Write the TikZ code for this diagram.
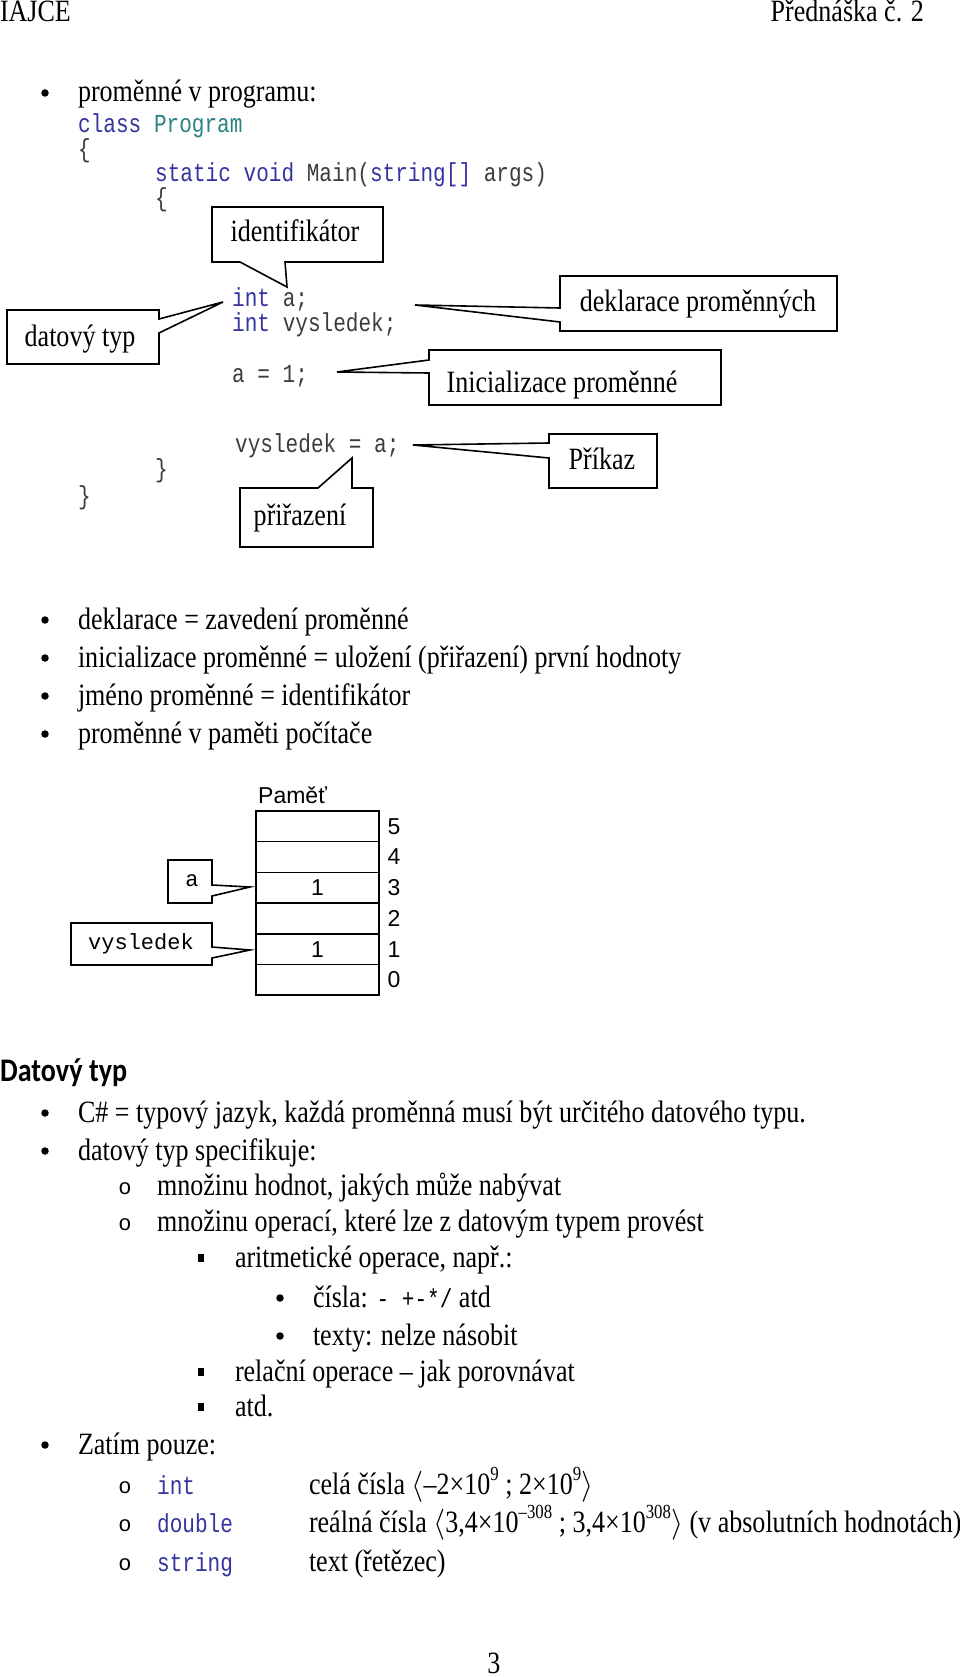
\RequirePackage{fix-cm}
\documentclass[tikz,border=0pt]{standalone}
\usepackage{fontspec}
\setmainfont{Liberation Serif}[FakeStretch=0.84]
\setsansfont{Liberation Sans}
\setmonofont{Liberation Mono}[FakeStretch=0.81]
\newfontfamily\headfont{Carlito}[FakeStretch=0.85]
\newfontfamily\memmono{Liberation Mono}
\definecolor{kwc}{RGB}{52,52,160}
\definecolor{tyc}{RGB}{43,130,130}
\definecolor{cgc}{RGB}{60,60,60}
\newcommand\bodyfont{\rmfamily\fontsize{31}{37}\selectfont}
\newcommand\codefont{\ttfamily\fontsize{26}{30}\selectfont}
\newcommand\memfont{\sffamily\fontsize{23}{27}\selectfont}
\newcommand\memcode{\memmono\fontsize{22}{26}\selectfont}
\newcommand\kw[1]{\textcolor{kwc}{#1}}
\newcommand\sups[1]{\raisebox{0.42em}{\fontsize{20}{20}\selectfont #1}}
\begin{document}
\begin{tikzpicture}[x=1pt,y=-1pt,
 txt/.style={font=\bodyfont, anchor=base west, inner sep=0pt, outer sep=0pt},
 code/.style={font=\codefont, anchor=base west, inner sep=0pt, text=cgc},
 calltxt/.style={font=\bodyfont, anchor=base, inner sep=0pt},
 callout/.style={draw=black, line width=1.6pt, fill=white, line join=miter},
 dot/.style={circle, fill=black, inner sep=0pt, minimum size=7.5pt},
 sq/.style={rectangle, fill=black, inner sep=0pt, minimum width=6.5pt, minimum height=7.5pt},
 ring/.style={font=\memcode, anchor=base, inner sep=0pt},
 cell/.style={draw=black, line width=1.5pt, minimum width=123pt, minimum height=30.7pt, inner sep=0pt},
 memtxt/.style={font=\memfont, inner sep=0pt},
]
\useasboundingbox (0,0) rectangle (960,1677);

% header
\node[txt] (hl) at (0,22) {IAJCE};
\node[txt, anchor=base east] (hr) at (924,22) {Přednáška č. 2};

% first bullet
\node[dot] (b1) at (45,93) {};
\node[txt] (t1) at (78,102) {proměnné v programu:};

% code
\node[code] (c1) at (78,133) {\kw{class} \textcolor{tyc}{Program}};
\node[code] (c2) at (78,158) {\{};
\node[code] (c3) at (155,182) {\kw{static} \kw{void} Main(\kw{string[]} args)};
\node[code] (c4) at (155,207) {\{};
\node[code] (c5) at (232,306) {\kw{int} a;};
\node[code] (c6) at (232,331) {\kw{int} vysledek;};
\node[code] (c7) at (232,382) {a = 1;};
\node[code] (c8) at (235,452) {vysledek = a;};
\node[code] (c9) at (155,477) {\}};
\node[code] (c10) at (78,504) {\}};

% callouts
\draw[callout] (212,207) -- (383,207) -- (383,262) -- (285,262) -- (287,287) -- (240,262) -- (212,262) -- cycle;
\node[calltxt] (k1) at (295,242) {identifikátor};

\draw[callout] (7,310) -- (159,310) -- (159,319) -- (223,302) -- (159,333) -- (159,364) -- (7,364) -- cycle;
\node[calltxt] (k2) at (80,346) {datový typ};

\draw[callout] (560,276) -- (837,276) -- (837,331) -- (560,331) -- (560,322) -- (415,305) -- (560,308) -- cycle;
\node[calltxt] (k3) at (698,312) {deklarace proměnných};

\draw[callout] (429,350) -- (721,350) -- (721,405) -- (429,405) -- (429,373) -- (337,372) -- (429,360) -- cycle;
\node[calltxt] (k4) at (562,392) {Inicializace proměnné};

\draw[callout] (549,434) -- (657,434) -- (657,488) -- (549,488) -- (549,458) -- (413,445) -- (549,443) -- cycle;
\node[calltxt] (k5) at (602,469) {Příkaz};

\draw[callout] (240,488) -- (318,488) -- (352,458) -- (352,488) -- (373,488) -- (373,547) -- (240,547) -- cycle;
\node[calltxt] (k6) at (300,525) {přiřazení};

% bullets 2
\node[dot] (b2) at (45,620) {};
\node[txt] (t2) at (78,629) {deklarace = zavedení proměnné};
\node[dot] (b3) at (45,658) {};
\node[txt] (t3) at (78,667) {inicializace proměnné = uložení (přiřazení) první hodnoty};
\node[dot] (b4) at (45,696) {};
\node[txt] (t4) at (78,705) {jméno proměnné = identifikátor};
\node[dot] (b5) at (45,734) {};
\node[txt] (t5) at (78,743) {proměnné v paměti počítače};

% memory
\node[memtxt, anchor=base west] (pam) at (258,803) {Paměť};
\node[cell] (m5) at (317.5,826.3) {};
\node[cell] (m4) at (317.5,857) {};
\node[cell] (m3) at (317.5,887.7) {};
\node[cell] (m2) at (317.5,918.4) {};
\node[cell] (m1) at (317.5,949.1) {};
\node[cell] (m0) at (317.5,979.8) {};
\node[memtxt] at (m3.center) {1};
\node[memtxt] at (m1.center) {1};
\node[memtxt] (n5) at (394,826.3) {5};
\node[memtxt] (n4) at (394,857) {4};
\node[memtxt] (n3) at (394,887.7) {3};
\node[memtxt] (n2) at (394,918.4) {2};
\node[memtxt] (n1) at (394,949.1) {1};
\node[memtxt] (n0) at (394,979.8) {0};

\draw[callout] (168,860) -- (212,860) -- (212,885) -- (250,887) -- (212,896) -- (212,903) -- (168,903) -- cycle;
\node[font=\memcode, inner sep=0pt] (va) at (192,881) {a};
\draw[callout] (71,923) -- (212,923) -- (212,947) -- (250,950) -- (212,958) -- (212,965) -- (71,965) -- cycle;
\node[font=\memcode, inner sep=0pt] (vv) at (141,944) {vysledek};

% Datový typ
\node[font=\headfont\bfseries\fontsize{33}{39}\selectfont, anchor=base west, inner sep=0pt] (h2) at (0,1081) {Datový typ};

\node[dot] (d1) at (45,1113) {};
\node[txt] (u1) at (78,1122) {C\# = typový jazyk, každá proměnná musí být určitého datového typu.};
\node[dot] (d2) at (45,1151) {};
\node[txt] (u2) at (78,1160) {datový typ specifikuje:};
\node[ring] (o1) at (125,1194) {o};
\node[txt] (u3) at (157,1195) {množinu hodnot, jakých může nabývat};
\node[ring] (o2) at (125,1230) {o};
\node[txt] (u4) at (157,1231) {množinu operací, které lze z datovým typem provést};
\node[sq] (s1) at (201,1258) {};
\node[txt] (u5) at (235,1267) {aritmetické operace, např.:};
\node[dot] (e1) at (280,1298) {};
\node[txt] (u6) at (313,1307) {čísla: {\codefont\color{black}- +-*/} atd};
\node[dot] (e2) at (280,1336) {};
\node[txt] (u7) at (313,1345) {texty: nelze násobit};
\node[sq] (s2) at (201,1372) {};
\node[txt] (u8) at (235,1381) {relační operace – jak porovnávat};
\node[sq] (s3) at (201,1407) {};
\node[txt] (u9) at (235,1416) {atd.};
\node[dot] (d3) at (45,1445) {};
\node[txt] (u10) at (78,1454) {Zatím pouze:};

\node[ring] (o3) at (125,1493) {o};
\node[code, text=kwc] (ti) at (157,1494) {int};
\node[txt] (u11) at (309,1494) {celá čísla $\langle$–2×10\sups{9} ; 2×10\sups{9}$\rangle$};
\node[ring] (o4) at (125,1531) {o};
\node[code, text=kwc] (td) at (157,1532) {double};
\node[txt] (u12) at (309,1532) {reálná čísla $\langle$3,4×10\sups{–308} ; 3,4×10\sups{308}$\rangle$ (v absolutních hodnotách)};
\node[ring] (o5) at (125,1570) {o};
\node[code, text=kwc] (ts) at (157,1571) {string};
\node[txt] (u13) at (309,1571) {text (řetězec)};

\node[txt, anchor=base] (pg) at (494,1673) {3};
\end{tikzpicture}
\end{document}
